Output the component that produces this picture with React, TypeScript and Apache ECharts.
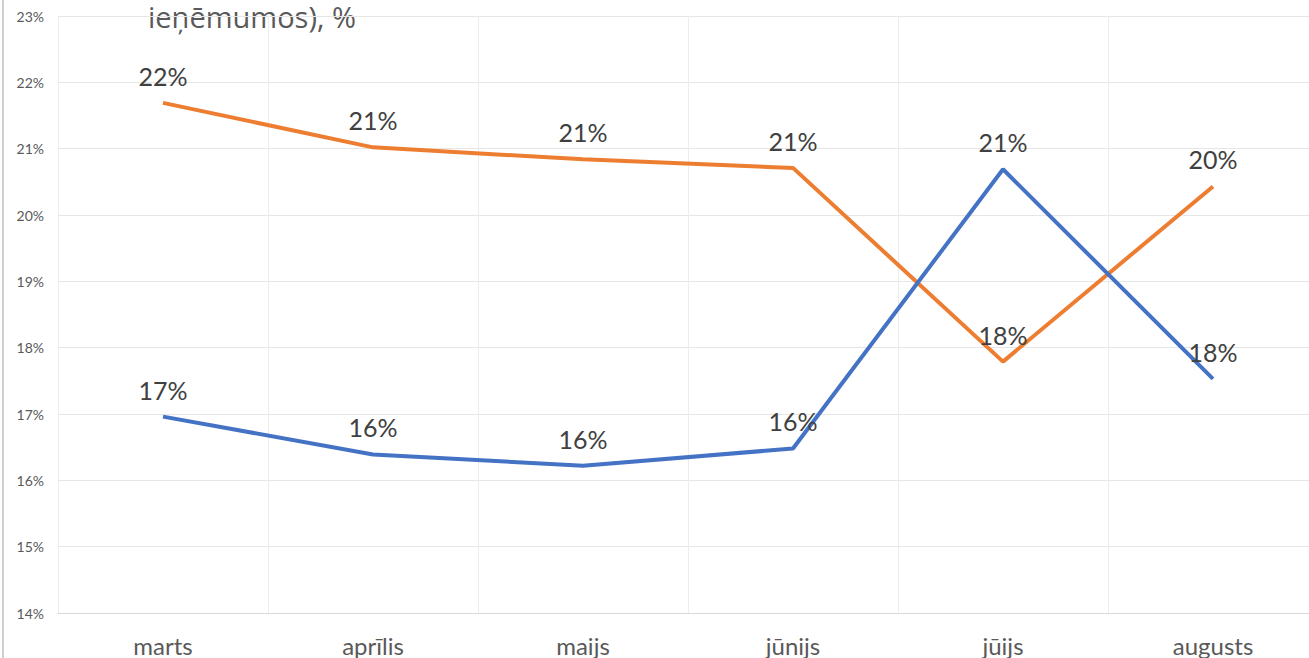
import React, { useEffect, useRef } from "react";
import * as echarts from "echarts";

const categories = ["marts", "aprīlis", "maijs", "jūnijs", "jūijs", "augusts"];
const orangeValues = [21.69, 21.02, 20.84, 20.71, 17.79, 20.43];
const blueValues = [16.96, 16.39, 16.22, 16.48, 20.69, 17.53];
const titleText = "ieņēmumos), %";

export default function App() {
  const ref = useRef<HTMLDivElement>(null);
  useEffect(() => {
    if (!ref.current) return;
    const chart = echarts.init(ref.current, undefined, { renderer: "svg" });
    const labelFmt = (p: any) => Math.round(p.value) + "%";
    const mkLabel = () => ({
      show: true,
      position: "top",
      distance: 14,
      formatter: labelFmt,
      color: "#404040",
      fontFamily: "Lato",
      fontSize: 25,
    });
    chart.setOption({
      animation: false,
      backgroundColor: "#ffffff",
      grid: {
        left: 58,
        top: 16,
        width: 1260,
        height: 597,
        containLabel: false,
        outerBoundsMode: "none",
      },
      xAxis: {
        type: "category",
        data: categories,
        boundaryGap: true,
        axisLine: { show: true, lineStyle: { color: "#d9d9d9", width: 1 } },
        axisTick: { show: false },
        splitLine: { show: true, lineStyle: { color: "#ececec", width: 1 } },
        axisLabel: {
          color: "#595959",
          fontFamily: "Lato",
          fontSize: 24,
          margin: 20,
        },
      },
      yAxis: {
        type: "value",
        min: 14,
        max: 23,
        interval: 1,
        axisLine: { show: false },
        axisTick: { show: false },
        splitLine: { show: true, lineStyle: { color: "#e6e6e6", width: 1 } },
        axisLabel: {
          color: "#595959",
          fontFamily: "Lato",
          fontSize: 14,
          margin: 14,
          formatter: (v: number) => v + "%",
        },
      },
      graphic: [
        {
          type: "rect",
          shape: { x: 2, y: 0, width: 2, height: 658 },
          style: { fill: "#d0d0d0" },
        },
        {
          type: "text",
          x: 148,
          y: 2,
          style: {
            text: titleText,
            fill: "#595959",
            font: "29px 'Open Sans'",
            lineHeight: 29,
            verticalAlign: "top",
            align: "left",
          },
        },
      ],
      series: [
        {
          type: "line",
          data: orangeValues,
          showSymbol: true,
          symbol: "circle",
          symbolSize: 1,
          lineStyle: { color: "#ED7D31", width: 4 },
          itemStyle: { color: "rgba(0,0,0,0)" },
          label: mkLabel(),
        },
        {
          type: "line",
          data: blueValues,
          showSymbol: true,
          symbol: "circle",
          symbolSize: 1,
          lineStyle: { color: "#4472C4", width: 4 },
          itemStyle: { color: "rgba(0,0,0,0)" },
          label: mkLabel(),
        },
      ],
    });
    return () => chart.dispose();
  }, []);
  return (
    <div
      ref={ref}
      style={{ position: "fixed", left: 0, top: 0, width: 1309, height: 658 }}
    />
  );
}
